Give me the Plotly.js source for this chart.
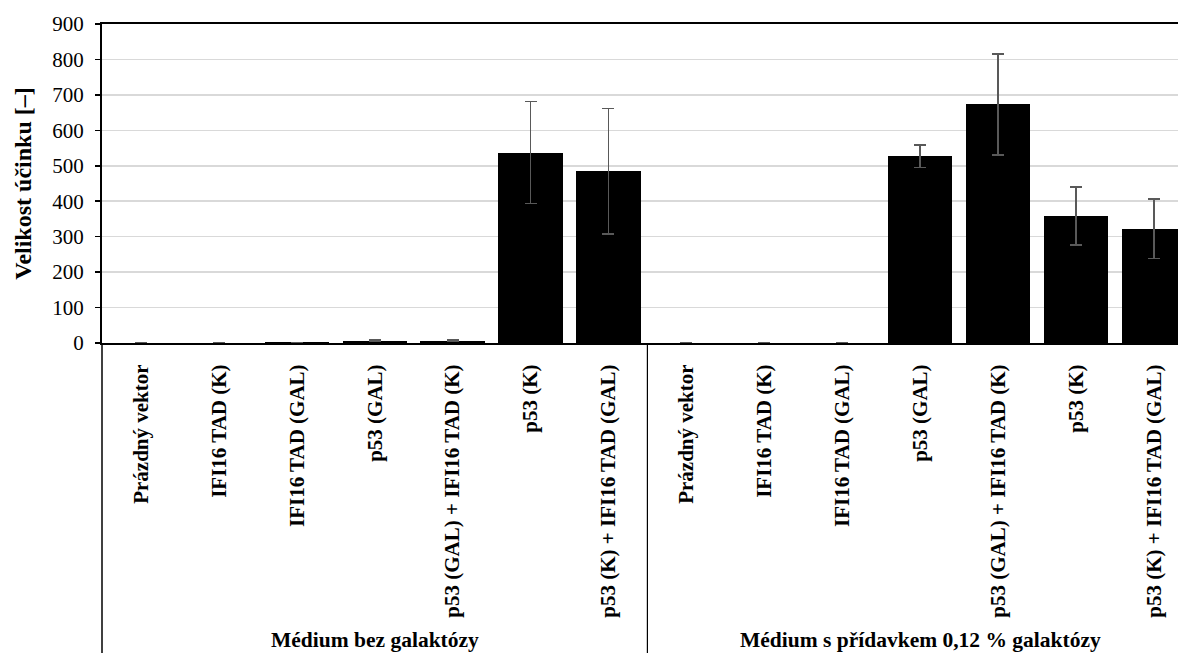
<!DOCTYPE html>
<html>
<head>
<meta charset="utf-8">
<script src="https://cdn.plot.ly/plotly-3.0.1.min.js"></script>
<style>html,body{margin:0;padding:0;background:#fff;}#chart{width:1178px;height:653px;}</style>
</head>
<body>
<div id="chart"></div>
<script>
const categories = [
  "Prázdný vektor", "IFI16 TAD (K)", "IFI16 TAD (GAL)", "p53 (GAL)",
  "p53 (GAL) + IFI16 TAD (K)", "p53 (K)", "p53 (K) + IFI16 TAD (GAL)",
  "Prázdný vektor", "IFI16 TAD (K)", "IFI16 TAD (GAL)", "p53 (GAL)",
  "p53 (GAL) + IFI16 TAD (K)", "p53 (K)", "p53 (K) + IFI16 TAD (GAL)"
];
const groups = ["Médium bez galaktózy", "Médium s přídavkem 0,12 % galaktózy"];
const groupSizes = [7, 7];
const values = [1.0, 0.8, 1.5, 6, 6, 537, 485, 1.0, 0.8, 1.2, 527, 673, 358, 322];
const errors = [0.3, 0.2, 0.5, 2, 2, 144, 177, 0.3, 0.2, 0.3, 32, 142, 82, 84];
const yTicks = [0, 100, 200, 300, 400, 500, 600, 700, 800, 900];

const xPos = categories.map((c, i) => i);
const font = "Liberation Serif";

const trace = {
  type: "bar",
  x: xPos,
  y: values,
  width: 0.826,
  marker: {color: "#000000", line: {width: 0}},
  error_y: {type: "data", array: errors, visible: true, color: "#595959", thickness: 1.5, width: 6},
  hoverinfo: "skip"
};

const annotations = [];
const shapes = [];
let start = 0;
groups.forEach((g, gi) => {
  const n = groupSizes[gi];
  annotations.push({
    text: "<b>" + g + "</b>", xref: "x", yref: "paper",
    x: start + (n - 1) / 2, y: -0.93, xanchor: "center", yanchor: "middle",
    showarrow: false, font: {family: font, size: 21.5, color: "#000"}
  });
  start += n;
  if (gi < groups.length - 1) {
    shapes.push({type: "line", xref: "x", yref: "paper", x0: start - 0.5, x1: start - 0.5,
      y0: 0, y1: -1.02, line: {color: "#000", width: 1.2}});
  }
});
shapes.push({type: "line", xref: "paper", yref: "paper", x0: 0, x1: 0, y0: 0, y1: -1.02,
  line: {color: "#000", width: 1.5}});

const layout = {
  width: 1178, height: 653,
  margin: {l: 102, r: 0, t: 24, b: 310},
  paper_bgcolor: "#fff", plot_bgcolor: "#fff",
  showlegend: false,
  font: {family: font, color: "#000"},
  bargap: 0,
  xaxis: {
    range: [-0.5, 13.31],
    tickvals: xPos,
    ticktext: categories.map(c => "<b>" + c + "</b>"),
    tickangle: -90,
    tickfont: {family: font, size: 21, color: "#000"},
    ticks: "outside", ticklen: 11, tickcolor: "rgba(0,0,0,0)",
    showgrid: false, zeroline: false,
    showline: true, mirror: true, linecolor: "#000", linewidth: 2,
    fixedrange: true
  },
  yaxis: {
    range: [0, 900],
    tickvals: yTicks,
    ticktext: yTicks.map(String),
    tickfont: {family: font, size: 21, color: "#000"},
    ticks: "outside", ticklen: 5, tickcolor: "#000", tickwidth: 1.5,
    ticklabelstandoff: 7,
    showgrid: true, gridcolor: "#d9d9d9", gridwidth: 1.5,
    zeroline: false, showline: true, linecolor: "#000", linewidth: 2,
    title: {text: "<b>Velikost účinku [–]</b>", font: {family: font, size: 24, color: "#000"}, standoff: 14},
    fixedrange: true
  },
  annotations: annotations,
  shapes: shapes
};

Plotly.newPlot("chart", [trace], layout, {displayModeBar: false, staticPlot: true});
</script>
</body>
</html>
